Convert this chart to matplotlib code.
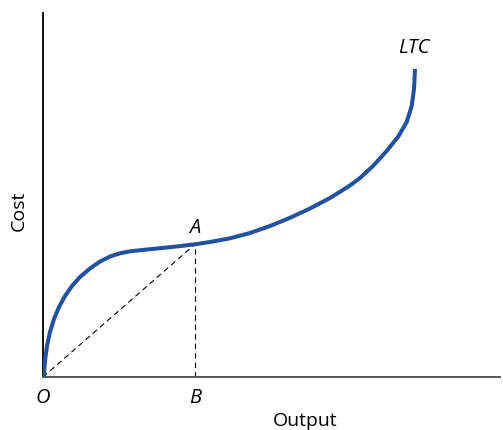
import matplotlib.pyplot as plt

# long-run total cost curve (output 0-100, cost 0-100)
output = [0.219, 0.328, 0.547, 0.875, 1.532, 2.407, 3.501, 4.814, 6.346, 8.096,
          10.284, 12.473, 14.661, 16.849, 19.037, 22.757, 26.258, 29.978, 33.260,
          36.543, 40.919, 45.295, 49.672, 54.048, 58.425, 62.801, 67.177, 69.365,
          72.210, 75.208, 77.746, 79.584, 80.678, 81.182, 81.400]
cost = [0, 2.747, 5.495, 8.516, 12.363, 15.934, 19.231, 22.253, 25.0, 27.473,
        29.808, 31.731, 33.104, 33.984, 34.533, 35.027, 35.467, 35.962, 36.456,
        37.088, 38.104, 39.560, 41.484, 43.736, 46.291, 49.176, 52.610, 54.670,
        57.967, 62.088, 66.071, 70.055, 74.451, 79.121, 84.615]
a_index = 18  # point A on the curve
ltc_label = (81.2, 90.7)

plt.rcParams['font.family'] = ['Open Sans', 'DejaVu Sans']

fig = plt.figure(figsize=(5.03, 4.31), dpi=100)
ax = fig.add_axes([43 / 503, 53 / 431, 457 / 503, 364 / 431])
ax.set_xlim(0, 100)
ax.set_ylim(0, 100)

ax.plot(output, cost, color='#23519f', lw=2.9, solid_capstyle='butt',
        solid_joinstyle='round', zorder=3)
a_x, a_y = output[a_index], cost[a_index]
ax.plot([0, a_x], [0, a_y], color='black', lw=0.8, dashes=(5, 3.5), zorder=2)
ax.plot([a_x, a_x], [0, a_y], color='black', lw=0.8, dashes=(5, 3.5), zorder=2)

ax.text(a_x, 41.2, 'A', style='italic', fontsize=14.5, ha='center', va='center')
ax.text(ltc_label[0], ltc_label[1], 'LTC', style='italic', fontsize=14.5,
        ha='center', va='center')
ax.text(0, -5.6, 'O', style='italic', fontsize=14.5, ha='center', va='center')
ax.text(a_x, -5.6, 'B', style='italic', fontsize=14.5, ha='center', va='center')

ax.text((305 - 43) / 457, -0.117, 'Output', fontsize=14, ha='center',
        va='center', transform=ax.transAxes)
ax.text(-0.052, 0.46, 'Cost', fontsize=14, rotation=90, ha='center',
        va='center', transform=ax.transAxes)

ax.set_xticks([])
ax.set_yticks([])
for s in ['top', 'right']:
    ax.spines[s].set_visible(False)
ax.spines['left'].set_color('#111111')
ax.spines['left'].set_linewidth(1.4)
ax.spines['bottom'].set_color('#555555')
ax.spines['bottom'].set_linewidth(1.4)

fig.savefig('out.png', dpi=100)
